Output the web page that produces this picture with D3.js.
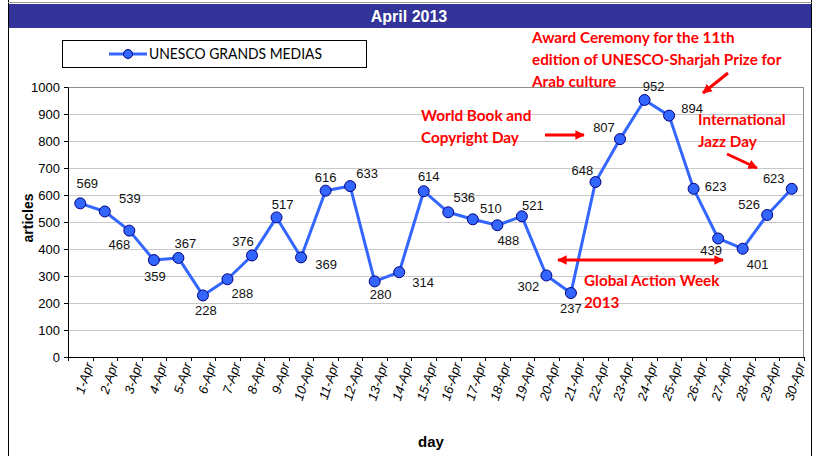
<!DOCTYPE html>
<html>
<head>
<meta charset="utf-8">
<script src="https://cdn.jsdelivr.net/npm/d3@7"></script>
<style>
body { margin: 0; background: #fff; }
svg { display: block; }
</style>
</head>
<body>
<div class="chart"></div>
<script>
// data
const days = d3.range(1, 31).map(d => d + "-Apr");
const articles = [569, 539, 468, 359, 367, 228, 288, 376, 517, 369, 616, 633, 280, 314, 614,
  536, 510, 488, 521, 302, 237, 648, 807, 952, 894, 623, 439, 401, 526, 623];
const yTicks = [0, 100, 200, 300, 400, 500, 600, 700, 800, 900, 1000];
// where each value label sits relative to its point [dx, dy]
const labelOffsets = [[7,-20],[25,-13],[-10,14],[1,16],[7,-14],[3,15],[15,14],[-9,-14],[6,-13],[25,7],
  [0,-13],[17,-13],[6,13],[24,10],[5,-15],[16,-15],[18,-11],[11,15],[11,-11],[-18,11],
  [0,15],[-13,-12],[-16,-12],[9,-14],[23,-7],[22,-2],[-7,12],[15,16],[-18,-11],[-18,-10]];

const W = 817, H = 456;
const margin = { top: 87, right: 13, bottom: 99, left: 68 };
const width = W - margin.left - margin.right,
      height = H - margin.top - margin.bottom;

const svg = d3.select(".chart").append("svg")
  .attr("width", W).attr("height", H)
  .style("font-family", "Arial, 'Liberation Sans', sans-serif");

// frame of the chart
svg.append("line").attr("x1", 8.5).attr("x2", 8.5).attr("y1", 0).attr("y2", H).attr("stroke", "#000");
svg.append("line").attr("x1", 811.5).attr("x2", 811.5).attr("y1", 0).attr("y2", H).attr("stroke", "#000");
svg.append("line").attr("x1", 8).attr("x2", 812).attr("y1", 2.5).attr("y2", 2.5).attr("stroke", "#999");

// title band
svg.append("rect").attr("x", 9).attr("y", 4).attr("width", 802).attr("height", 24).attr("fill", "#333399");
svg.append("text").attr("x", 409).attr("y", 22).attr("text-anchor", "middle")
  .attr("fill", "#fff").attr("font-weight", "bold").attr("font-size", 16)
  .text("April 2013");

const g = svg.append("g").attr("transform", `translate(${margin.left},${margin.top})`);

const x = d3.scaleBand().domain(days).range([0, width]);
const y = d3.scaleLinear().domain([0, 1000]).range([height, 0]);

// gridlines
g.selectAll(".grid").data(yTicks.slice(1)).join("line")
  .attr("x1", 0).attr("x2", width)
  .attr("y1", d => Math.round(y(d)) + 0.5).attr("y2", d => Math.round(y(d)) + 0.5)
  .attr("stroke", "#c8c8c8");
// plot border (top/right)
g.append("path").attr("d", `M0,0.5H${width - 0.5}V${height}`).attr("fill", "none").attr("stroke", "#8c8c8c");

// y axis
const yAxis = g.append("g").call(d3.axisLeft(y).tickValues(yTicks).tickFormat(d3.format("d")).tickSize(4).tickSizeOuter(0));
yAxis.select(".domain").attr("stroke", "#000");
yAxis.selectAll("text").attr("font-size", 13).attr("fill", "#000")
  .style("font-family", "Arial, 'Liberation Sans', sans-serif").attr("dx", -1);

// x axis
const xAxis = g.append("g").attr("transform", `translate(0,${height})`)
  .call(d3.axisBottom(x).tickSize(0));
xAxis.select(".domain").attr("stroke", "#000");
xAxis.selectAll(".tick text")
  .attr("font-size", 13).attr("fill", "#000")
  .style("font-family", "Arial, 'Liberation Sans', sans-serif")
  .style("font-style", "italic")
  .attr("text-anchor", "end")
  .attr("transform", "translate(9,6) rotate(-72)")
  .attr("dy", "0.35em").attr("y", 0).attr("x", 0);
// tick marks on the category boundaries
g.append("g").selectAll("line").data(d3.range(0, days.length + 1)).join("line")
  .attr("x1", i => Math.round(i * x.step()) + 0.5).attr("x2", i => Math.round(i * x.step()) + 0.5)
  .attr("y1", height).attr("y2", height + 4).attr("stroke", "#000");

// axis titles
svg.append("text").attr("transform", "translate(33,218) rotate(-90)")
  .attr("text-anchor", "middle").attr("font-weight", "bold").attr("font-size", 14)
  .text("articles");
svg.append("text").attr("x", 431).attr("y", 447).attr("text-anchor", "middle")
  .attr("font-weight", "bold").attr("font-size", 15)
  .text("day");

// series line
const cx = (d, i) => x(days[i]) + x.bandwidth() / 2;
const line = d3.line().x(cx).y(d => y(d));
g.append("path").datum(articles).attr("d", line)
  .attr("fill", "none").attr("stroke", "#3366ff").attr("stroke-width", 3).attr("stroke-linejoin", "round");
g.selectAll(".pt").data(articles).join("circle")
  .attr("cx", cx).attr("cy", d => y(d)).attr("r", 5.5)
  .attr("fill", "#3366ff").attr("stroke", "#000080").attr("stroke-width", 1);

// value labels
g.selectAll(".lbl").data(articles).join("text")
  .attr("x", (d, i) => cx(d, i) + labelOffsets[i][0])
  .attr("y", (d, i) => y(d) + labelOffsets[i][1])
  .attr("dy", "0.35em").attr("text-anchor", "middle").attr("font-size", 13).attr("fill", "#111")
  .text(d => d);

// legend
svg.append("rect").attr("x", 62.5).attr("y", 40.5).attr("width", 304).attr("height", 27)
  .attr("fill", "#fff").attr("stroke", "#000");
svg.append("line").attr("x1", 109).attr("x2", 147).attr("y1", 54).attr("y2", 54)
  .attr("stroke", "#3366ff").attr("stroke-width", 3);
svg.append("circle").attr("cx", 128).attr("cy", 54).attr("r", 4.5)
  .attr("fill", "#3366ff").attr("stroke", "#000080");
svg.append("text").attr("x", 149).attr("y", 59).attr("font-size", 14.5)
  .attr("textLength", 173).attr("lengthAdjust", "spacingAndGlyphs")
  .style("font-family", "Lato, 'Open Sans', sans-serif")
  .text("UNESCO GRANDS MEDIAS");

// annotations
const red = "#ff0000";
const ann = svg.append("g").attr("fill", red).attr("font-weight", "bold").attr("font-size", 15.3)
  .style("font-family", "Lato, 'Open Sans', sans-serif");
const notes = [
  { x: 532, y: 43, lines: ["Award Ceremony for the 11th", "edition of UNESCO-Sharjah Prize for", "Arab culture"] },
  { x: 421, y: 121, lines: ["World Book and", "Copyright Day"] },
  { x: 698, y: 125, lines: ["International", "Jazz Day"] },
  { x: 584, y: 286, lines: ["Global Action Week", "2013"] }
];
notes.forEach(n => {
  ann.append("text").attr("x", n.x).attr("y", n.y)
    .selectAll("tspan").data(n.lines).join("tspan")
    .attr("x", n.x).attr("dy", (d, i) => i ? 22 : 0).text(d => d);
});

const defs = svg.append("defs");
defs.append("marker").attr("id", "ah").attr("viewBox", "0 0 10 10").attr("refX", 9).attr("refY", 5)
  .attr("markerWidth", 3.2).attr("markerHeight", 3.2).attr("orient", "auto-start-reverse")
  .append("path").attr("d", "M0,0L10,5L0,10z").attr("fill", red);
const arrows = [
  { x1: 728, y1: 73, x2: 703, y2: 93, both: false },
  { x1: 545, y1: 135, x2: 584, y2: 135, both: false },
  { x1: 727, y1: 154, x2: 757, y2: 168, both: false },
  { x1: 558, y1: 260, x2: 723, y2: 260, both: true }
];
arrows.forEach(a => {
  svg.append("line").attr("x1", a.x1).attr("y1", a.y1).attr("x2", a.x2).attr("y2", a.y2)
    .attr("stroke", red).attr("stroke-width", 3)
    .attr("marker-end", "url(#ah)")
    .attr("marker-start", a.both ? "url(#ah)" : null);
});
</script>
</body>
</html>
